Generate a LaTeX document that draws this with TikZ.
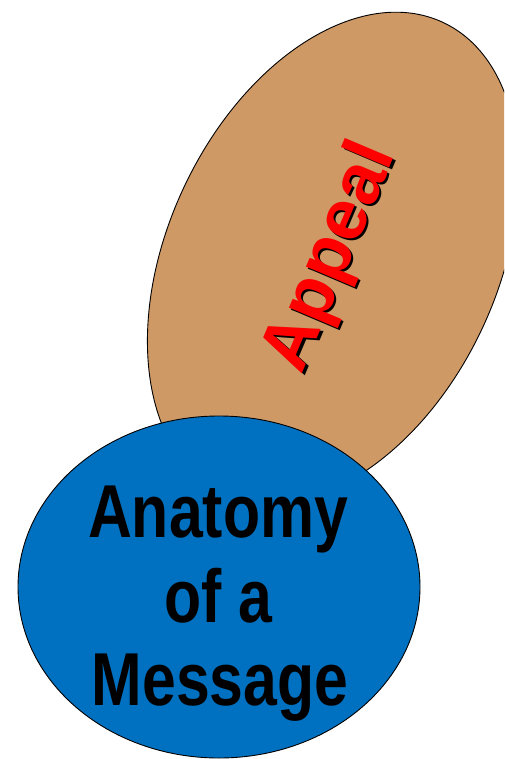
\documentclass[tikz,border=0pt]{standalone}
\usepackage{fontspec}
\setmainfont{Liberation Sans}
\usetikzlibrary{shapes.geometric}
\definecolor{tanfill}{RGB}{207,153,102}
\definecolor{msgblue}{RGB}{0,112,192}
\newcommand{\shadowed}[1]{\makebox[0pt][l]{\hspace{-1.1pt}\raisebox{-2.8pt}{\color{black}#1}}\color{red}#1}
\begin{document}
\begin{tikzpicture}[x=1pt,y=1pt,
  bubble/.style={ellipse, draw=black, line width=0.9pt, inner sep=0pt},
  big/.style={font=\bfseries\fontsize{75}{84}\selectfont, anchor=base, inner sep=0pt, text=black},
  appealfont/.style={font=\bfseries\fontsize{72}{80}\selectfont, inner sep=0pt, rotate=67}]
\useasboundingbox (0,0) rectangle (504,-759);
\clip (0,0) rectangle (504,-759);
\node[bubble, fill=tanfill, minimum width=520pt, minimum height=330pt, rotate=65] (appeal) at (333,-258) {};
\node[appealfont] (appealtext) at (333,-258) {\shadowed{Appeal}};
\node[bubble, fill=msgblue, minimum width=402pt, minimum height=342pt] (msg) at (219,-587) {};
\node[big] (lineone) at (218,-537) {\scalebox{0.81}[1]{Anatomy}};
\node[big] (linetwo) at (218,-622) {\scalebox{0.81}[1]{of a}};
\node[big] (linethree) at (220,-705) {\scalebox{0.81}[1]{Message}};
\end{tikzpicture}
\end{document}
